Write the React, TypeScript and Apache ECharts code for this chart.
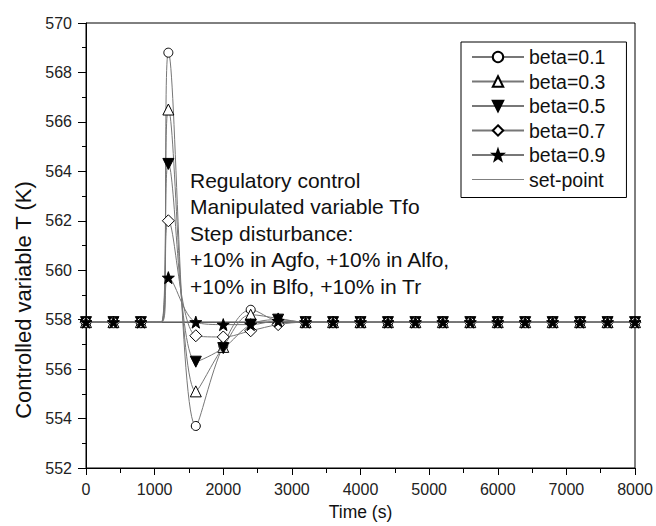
import React, { useEffect, useRef } from "react";
import * as echarts from "echarts";

// Time points (s); the 1100 s point marks the step start and carries no marker
const times = [0, 400, 800, 1100, 1200, 1600, 2000, 2400, 2800, 3200, 3600, 4000, 4400, 4800, 5200, 5600, 6000, 6400, 6800, 7200, 7600, 8000];
const unmarkedTimes = [1100];

const beta01 = [557.9, 557.9, 557.9, 557.9, 568.8, 553.7, 556.95, 558.4, 557.95, 557.9, 557.9, 557.9, 557.9, 557.9, 557.9, 557.9, 557.9, 557.9, 557.9, 557.9, 557.9, 557.9];
const beta03 = [557.9, 557.9, 557.9, 557.9, 566.5, 555.1, 556.9, 558.2, 558.05, 557.9, 557.9, 557.9, 557.9, 557.9, 557.9, 557.9, 557.9, 557.9, 557.9, 557.9, 557.9, 557.9];
const beta05 = [557.9, 557.9, 557.9, 557.9, 564.3, 556.3, 556.85, 557.8, 558.0, 557.9, 557.9, 557.9, 557.9, 557.9, 557.9, 557.9, 557.9, 557.9, 557.9, 557.9, 557.9, 557.9];
const beta07 = [557.9, 557.9, 557.9, 557.9, 562.0, 557.35, 557.3, 557.55, 557.8, 557.9, 557.9, 557.9, 557.9, 557.9, 557.9, 557.9, 557.9, 557.9, 557.9, 557.9, 557.9, 557.9];
const beta09 = [557.9, 557.9, 557.9, 557.9, 559.7, 557.9, 557.8, 557.8, 557.95, 557.9, 557.9, 557.9, 557.9, 557.9, 557.9, 557.9, 557.9, 557.9, 557.9, 557.9, 557.9, 557.9];
const setPointTimes = [0, 8000];
const setPointValues = [557.9, 557.9];

const seriesNames = ["beta=0.1", "beta=0.3", "beta=0.5", "beta=0.7", "beta=0.9", "set-point"];
const yAxisTitle = "Controlled variable T (K)";
const annotationLines = [
  "Regulatory control",
  "Manipulated variable Tfo",
  "Step disturbance:",
  "+10% in Agfo, +10% in Alfo,",
  "+10% in Blfo, +10% in Tr",
];

const STAR = "path://M0,-10 L2.35,-3.24 L9.51,-3.09 L3.8,1.24 L5.88,8.09 L0,4 L-5.88,8.09 L-3.8,1.24 L-9.51,-3.09 L-2.35,-3.24 Z";
const THIN_LINE = "path://M0,0 L100,0 L100,1 L0,1 Z";

export default function App() {
  const ref = useRef<HTMLDivElement>(null);
  useEffect(() => {
    if (!ref.current) return;
    const chart = echarts.init(ref.current, null, { renderer: "svg" });
    const FONT = "Liberation Sans, Arial, sans-serif";
    const build = (vals: number[]) =>
      times.map((t, i) =>
        unmarkedTimes.includes(t) ? { value: [t, vals[i]], symbol: "none" } : { value: [t, vals[i]] }
      );
    const markerDefs = [
      { data: beta01, symbol: "circle", size: 9, fill: "#fff", rotate: 0 },
      { data: beta03, symbol: "triangle", size: 11, fill: "#fff", rotate: 0 },
      { data: beta05, symbol: "triangle", size: 11, fill: "#000", rotate: 180 },
      { data: beta07, symbol: "diamond", size: 12, fill: "#fff", rotate: 0 },
      { data: beta09, symbol: STAR, size: 12, fill: "#000", rotate: 0 },
    ];
    const series: any[] = markerDefs.map((m, k) => ({
      type: "line",
      name: seriesNames[k],
      data: build(m.data),
      smooth: 0.35,
      symbol: m.symbol,
      symbolSize: m.size,
      symbolRotate: m.rotate,
      showAllSymbol: true,
      lineStyle: { color: "#777", width: 1 },
      itemStyle: { color: m.fill, borderColor: "#000", borderWidth: 1 },
      z: 3 + k,
    }));
    series.push({
      type: "line",
      name: seriesNames[5],
      data: setPointTimes.map((t, i) => [t, setPointValues[i]]),
      symbol: "none",
      lineStyle: { color: "#000", width: 1 },
      itemStyle: { color: "#000" },
      z: 2,
    });
    chart.setOption({
      animation: false,
      backgroundColor: "#fff",
      textStyle: { fontFamily: FONT },
      grid: { left: 86, right: 21, top: 23, bottom: 58, show: true, borderColor: "#000", borderWidth: 1 },
      legend: {
        orient: "vertical",
        left: 461,
        top: 42,
        data: seriesNames.map((n, i) =>
          i === 5 ? { name: n, icon: THIN_LINE, itemStyle: { color: "#000", borderWidth: 0 } } : { name: n }
        ),
        borderColor: "#000",
        borderWidth: 1,
        padding: [5, 21, 8, 10],
        itemWidth: 52,
        itemHeight: 13,
        itemGap: 4.5,
        textStyle: { fontSize: 19.5, color: "#111", fontFamily: FONT },
      },
      xAxis: {
        type: "value",
        min: 0,
        max: 8000,
        interval: 1000,
        name: "Time (s)",
        nameLocation: "middle",
        nameGap: 35,
        nameTextStyle: { fontSize: 17.5, color: "#111" },
        axisLine: { lineStyle: { color: "#000", width: 1 } },
        axisTick: { show: true, inside: false, length: 7, lineStyle: { color: "#000" } },
        minorTick: { show: true, splitNumber: 2, length: 5, lineStyle: { color: "#000" } },
        axisLabel: { fontSize: 16, color: "#222", margin: 13, formatter: (v: number) => String(v) },
        splitLine: { show: false },
      },
      yAxis: {
        type: "value",
        min: 552,
        max: 570,
        interval: 2,
        axisLine: { show: true, lineStyle: { color: "#000", width: 1 } },
        axisTick: { show: true, inside: false, length: 8, lineStyle: { color: "#000" } },
        minorTick: { show: true, splitNumber: 2, length: 4, lineStyle: { color: "#000" } },
        axisLabel: { fontSize: 16, color: "#222", margin: 14 },
        splitLine: { show: false },
      },
      graphic: [
        {
          type: "text",
          x: 23,
          y: 300,
          rotation: Math.PI / 2,
          style: {
            text: yAxisTitle,
            fontSize: 22,
            fill: "#111",
            fontFamily: FONT,
            align: "center",
            verticalAlign: "middle",
          },
        },
        {
          type: "text",
          left: 190,
          top: 167,
          style: {
            text: annotationLines.join("\n"),
            fontSize: 21,
            lineHeight: 26.5,
            fill: "#111",
            fontFamily: FONT,
          },
          z: 10,
        },
      ],
      series,
    });
    return () => chart.dispose();
  }, []);
  return <div ref={ref} style={{ position: "fixed", left: 0, top: 0, width: 656, height: 526 }} />;
}
